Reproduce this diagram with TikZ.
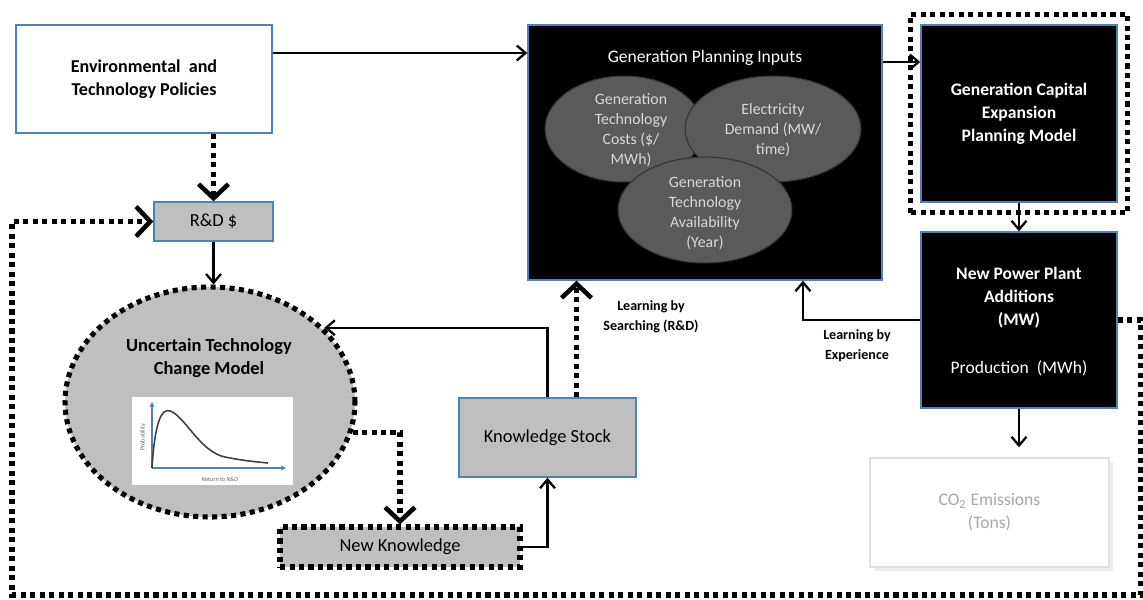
\documentclass[tikz,border=0pt]{standalone}
\usepackage{fontspec}
\setmainfont{Carlito}
\usetikzlibrary{arrows.meta,shapes.geometric,calc,shadows}
\definecolor{bord}{HTML}{4F81BD}
\definecolor{boxgray}{HTML}{BFBFBF}
\definecolor{elgray}{HTML}{5A5A5A}
\definecolor{eltext}{HTML}{D9D9D9}
\definecolor{cotext}{HTML}{A6A6A6}
\definecolor{axblue}{HTML}{4F81BD}
\begin{document}
\begin{tikzpicture}[x=0.02cm,y=-0.02cm,
  box/.style={draw=bord, line width=0.8pt, align=center, inner sep=2pt},
  graybox/.style={box, fill=boxgray},
  blackbox/.style={box, fill=black, text=white},
  dotline/.style={line width=2.9pt, dash pattern=on 2.9pt off 2.5pt},
  arr/.style={line width=1.3pt, -{Straight Barb[length=5pt,width=8.5pt]}},
  darr/.style={dotline, -{Straight Barb[length=8pt,width=17pt,line width=2.6pt]}},
  inel/.style={ellipse, fill=elgray, draw=black!80, line width=0.6pt, inner sep=0pt},
  eltxt/.style={align=center, text=eltext, font=\fontsize{9}{11.3}\selectfont},
  lbl/.style={align=center, font=\bfseries\fontsize{8}{11.3}\selectfont},
]
\path[use as bounding box] (0,0) rectangle (1143,599);

% Environmental and Technology Policies
\node[box, fill=white, minimum width=5.12cm, minimum height=2.16cm,
      font=\bfseries\fontsize{10.3}{13}\selectfont] (env) at (144,79)
      {Environmental\ \ and\\Technology Policies};

% R&D $
\node[graybox, minimum width=2.38cm, minimum height=0.78cm,
      font=\fontsize{10.5}{12.5}\selectfont] (rd) at (213.5,221.5) {R\&D \$};

% Uncertain Technology Change Model
\node[ellipse, fill=boxgray, draw=black, dotline, minimum width=5.8cm,
      minimum height=4.6cm, inner sep=0pt] (ue) at (210,402) {};
\node[align=center, font=\bfseries\fontsize{10.5}{13}\selectfont] (uet) at (209,358)
      {Uncertain Technology\\Change Model};
% chart
\node[fill=white, minimum width=3.22cm, minimum height=1.76cm, inner sep=0pt] (chart) at (212.5,441) {};
\draw[axblue, line width=0.7pt, -{Stealth[length=3pt,width=3pt]}] (152,468) -- (152,402);
\draw[axblue, line width=0.7pt, -{Stealth[length=3pt,width=3pt]}] (152,468) -- (286,468);
\draw[black!75, line width=0.9pt] (152,468) .. controls (155,420) and (162,408) .. (170,411)
  .. controls (185,416) and (200,452) .. (225,457)
  .. controls (245,461) and (258,462) .. (268,463);
\node[rotate=90, font=\fontsize{3.5}{4}\selectfont, text=black!60] (prob) at (143,437) {Probability};
\node[font=\fontsize{3.5}{4}\selectfont, text=black!60] (ret) at (220,479) {Return to R\&D};

% Knowledge Stock
\node[graybox, minimum width=3.54cm, minimum height=1.58cm,
      font=\fontsize{10.5}{12.5}\selectfont] (ks) at (547.5,437.5) {Knowledge Stock};

% New Knowledge
\node[draw=black, fill=boxgray, dotline, minimum width=4.8cm, minimum height=0.8cm,
      font=\fontsize{10.5}{12.5}\selectfont] (nk) at (400,547) {New Knowledge};

% Generation Planning Inputs
\node[blackbox, minimum width=7.08cm, minimum height=5.1cm] (gpi) at (705,152.5) {};
\node[text=white, font=\fontsize{10}{12}\selectfont] (gpit) at (705,58) {Generation Planning Inputs};
\node[inel, minimum width=3.16cm, minimum height=2.12cm] (e1) at (624,129) {};
\node[inel, minimum width=3.52cm, minimum height=2.12cm] (e2) at (773,129) {};
\node[inel, minimum width=3.48cm, minimum height=2.12cm] (e3) at (705,210) {};
\node[eltxt] (e1t) at (631,130) {Generation\\Technology\\Costs (\$/\\MWh)};
\node[eltxt] (e2t) at (773,130) {Electricity\\Demand (MW/\\time)};
\node[eltxt] (e3t) at (705,213) {Generation\\Technology\\Availability\\(Year)};

% Generation Capital Expansion Planning Model
\node[blackbox, minimum width=3.92cm, minimum height=3.54cm,
      font=\bfseries\fontsize{10}{13}\selectfont] (gce) at (1019,113.5)
      {Generation Capital\\Expansion\\Planning Model};
\draw[dotline, line join=round] ([shift={(-10,10)}]gce.south west) rectangle ([shift={(10,-10)}]gce.north east);

% New Power Plant Additions
\node[blackbox, minimum width=3.92cm, minimum height=3.52cm] (npp) at (1019,320) {};
\node[align=center, text=white, font=\bfseries\fontsize{10}{13}\selectfont] (nppt) at (1019,298)
      {New Power Plant\\Additions\\(MW)};
\node[text=white, font=\fontsize{10}{12}\selectfont] (prod) at (1019,368) {Production\ \ (MWh)};

% CO2 Emissions
\node[draw=black!12, fill=white, line width=0.8pt, minimum width=4.78cm, minimum height=2.18cm,
      drop shadow={opacity=0.15, shadow xshift=2pt, shadow yshift=-2pt},
      align=center, text=cotext, font=\fontsize{10}{13}\selectfont] (co2) at (989.5,512.5)
      {CO\textsubscript{2} Emissions\\(Tons)};

% Labels
\node[lbl] (lbs) at (651,317) {Learning by\\Searching (R\&D)};
\node[lbl] (lbe) at (857,346) {Learning by\\Experience};

% Connectors
\draw[arr] (env.east |- 0,53) -- (gpi.west |- 0,53);
\draw[arr] (gpi.east |- 0,62) -- (gce.west |- 0,62);
\draw[arr] (gce.south) -- (npp.north);
\draw[arr] (npp.south) -- ([yshift=0.2cm]npp.south |- co2.north);
\draw[arr] (npp.west) -| ([xshift=1.96cm]gpi.south);
\draw[darr] ([xshift=0.58cm]ks.north) -- ([xshift=0.58cm]ks.north |- gpi.south);
\draw[arr] (ks.north) |- (ue.33);
\draw[arr] (nk.east) -| (ks.south);
\draw[darr] (ue.-12.5) -| (nk.north);
\draw[darr] (rd.north |- env.south) -- (rd.north);
\draw[arr] (rd.south) -- (rd.south |- ue.north);

% Feedback loop
\coordinate (c1) at (1141,320);
\coordinate (c2) at (1141,595);
\coordinate (c3) at (12,595);
\draw[darr] (npp.east) -- (c1) -- (c2) -- (c3) |- (rd.west);
\end{tikzpicture}
\end{document}
